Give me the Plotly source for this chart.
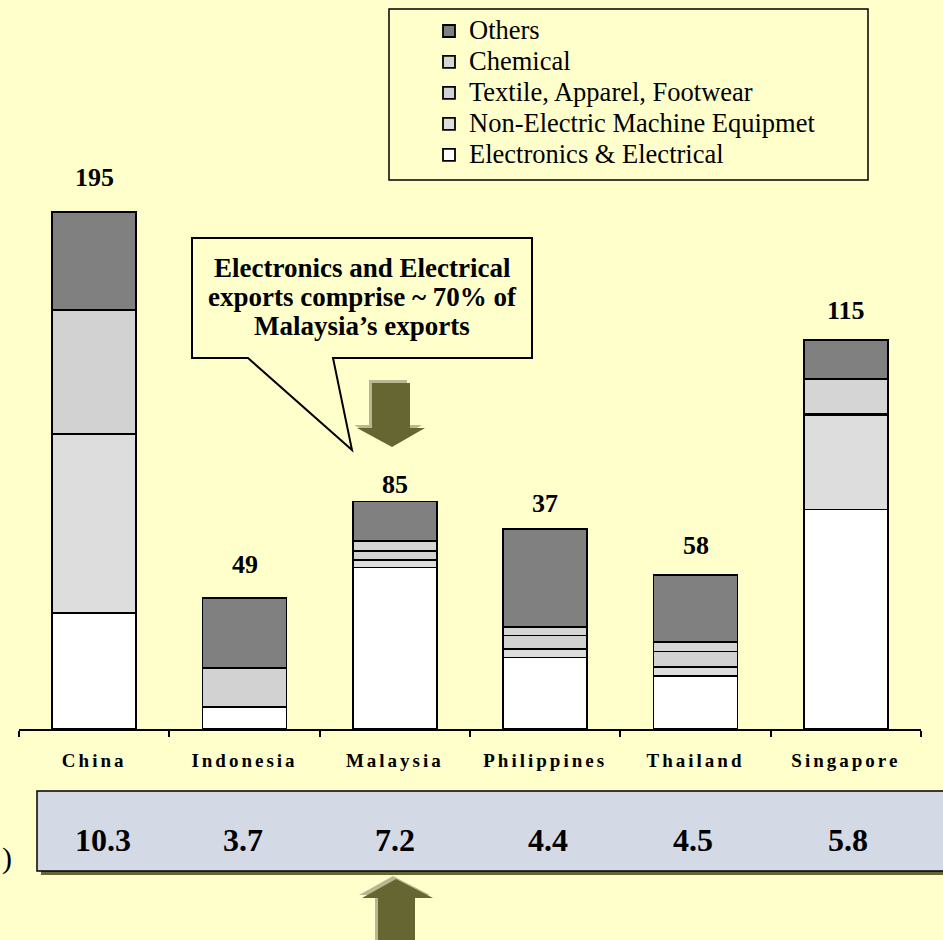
import plotly.graph_objects as go

# ---------------- data (US$ bn) ----------------
countries = ["China", "Indonesia", "Malaysia", "Philippines", "Thailand", "Singapore"]
total_labels = ["195", "49", "85", "37", "58", "115"]
electronics = [43.7, 8.3, 60.8, 26.9, 20.1, 82.7]
non_electric = [67.4, 0.0, 3.0, 3.2, 3.2, 35.5]
textile = [46.7, 14.7, 3.2, 5.1, 5.9, 0.6]
chemical = [0.0, 0.0, 3.8, 3.2, 3.7, 12.9]
others = [36.9, 26.4, 14.9, 36.9, 25.0, 14.8]
table_values = ["10.3", "3.7", "7.2", "4.4", "4.5", "5.8"]

series_names = ["Electronics & Electrical", "Non-Electric Machine Equipmet",
                "Textile, Apparel, Footwear", "Chemical", "Others"]
series_values = [electronics, non_electric, textile, chemical, others]

# ---------------- styling / layout ----------------
W, H = 943, 940
ML, MR, MT, MB = 19, 22, 0, 211
PW, PH = W - ML - MR, H - MT - MB
PX_PER_UNIT = 2.655
BG = "#FFFFCC"
OLIVE = "#666633"
SERIF = "Liberation Serif"
colors = ["#FFFFFF", "#DDDDDD", "#D2D2D2", "#D5D5D5", "#808080"]
label_gap_px = [34.5, 33, 16.7, 25.3, 29.7, 30]   # label centre above bar top
table_x_px = [103, 243, 395, 548, 693, 848]


def px2x(px):
    return (px - ML) / PW


def py2y(py):
    return (MT + PH - py) / PH


def path(points):
    pts = [f"{px2x(x):.5f},{py2y(y):.5f}" for x, y in points]
    return "M" + " L".join(pts) + " Z"


fig = go.Figure()
for name, vals, col in zip(series_names, series_values, colors):
    fig.add_trace(go.Bar(
        x=countries, y=vals,
        name=f'<span style="font-family:Liberation Serif;font-size:26.5px">{name}</span>',
        marker=dict(color=col, line=dict(color="black", width=1.8)),
        hoverinfo="skip",
    ))

totals = [sum(v) for v in zip(*series_values)]
annotations = []
for c, t, lab, g in zip(countries, totals, total_labels, label_gap_px):
    annotations.append(dict(
        x=c, y=t, xref="x", yref="y", yshift=g, text=lab, showarrow=False,
        font=dict(family=SERIF, size=26, color="black", weight="bold"),
        xanchor="center", yanchor="middle"))

# callout text
for txt, yy in zip(["Electronics and Electrical", "exports comprise ~ 70% of",
                    "Malaysia\u2019s exports"], [268, 297, 326]):
    annotations.append(dict(
        x=px2x(362), y=py2y(yy), xref="paper", yref="paper", text=txt,
        showarrow=False, font=dict(family=SERIF, size=27, color="black", weight="bold"),
        xanchor="center", yanchor="middle"))

# table values
for v, xx in zip(table_values, table_x_px):
    annotations.append(dict(
        x=px2x(xx), y=py2y(840), xref="paper", yref="paper", text=v,
        showarrow=False, font=dict(family=SERIF, size=32, color="black", weight="bold"),
        xanchor="center", yanchor="middle"))

annotations.append(dict(
    x=px2x(0), y=py2y(858), xref="paper", yref="paper", text=")",
    showarrow=False, font=dict(family=SERIF, size=30, color="black"),
    xanchor="left", yanchor="middle"))

shapes = []
# legend frame
shapes.append(dict(type="rect", xref="paper", yref="paper",
                   x0=px2x(389), x1=px2x(868), y0=py2y(9), y1=py2y(180),
                   line=dict(color="black", width=1.5), fillcolor=BG, layer="below"))
# callout bubble
shapes.append(dict(type="path", xref="paper", yref="paper",
                   path=path([(192, 238), (532, 238), (532, 358), (333, 358),
                              (352, 450), (248, 358), (192, 358)]),
                   line=dict(color="black", width=2), fillcolor=BG))
# table box with shadow
shapes.append(dict(type="rect", xref="paper", yref="paper",
                   x0=px2x(41), x1=px2x(965), y0=py2y(795), y1=py2y(875),
                   line=dict(width=0), fillcolor=OLIVE))
shapes.append(dict(type="rect", xref="paper", yref="paper",
                   x0=px2x(37), x1=px2x(960), y0=py2y(791), y1=py2y(871),
                   line=dict(color="black", width=1.5), fillcolor="#D4D9E6"))

down_arrow = [(372, 383), (410, 383), (410, 428), (425, 428), (392, 447), (357, 428), (372, 428)]
up_arrow = [(378, 950), (378, 898), (362, 898), (396, 879), (433, 898), (415, 898), (415, 950)]
for arrow in (down_arrow, up_arrow):
    shapes.append(dict(type="path", xref="paper", yref="paper",
                       path=path([(x - 3, y - 3) for x, y in arrow]),
                       line=dict(width=0), fillcolor="#B8B890"))
    shapes.append(dict(type="path", xref="paper", yref="paper",
                       path=path(arrow), line=dict(width=0), fillcolor=OLIVE))

ticktext = [f'<span style="letter-spacing:3px">{c}</span>' for c in countries]

fig.update_layout(
    width=W, height=H, autosize=False,
    margin=dict(l=ML, r=MR, t=MT, b=MB, pad=0),
    paper_bgcolor=BG, plot_bgcolor=BG,
    barmode="stack", bargap=0.44,
    showlegend=True,
    legend=dict(x=px2x(429), y=py2y(10.5), xanchor="left", yanchor="top",
                bgcolor="rgba(0,0,0,0)", borderwidth=0, traceorder="reversed",
                font=dict(family=SERIF, size=21.5, color="black"),
                itemclick=False, itemdoubleclick=False),
    xaxis=dict(type="category", categoryorder="array", categoryarray=countries,
               range=[-0.5, 5.5], showline=True, linecolor="black", linewidth=1.5,
               ticks="outside", tickson="boundaries", ticklen=6, tickwidth=1.5,
               tickcolor="black", tickvals=countries, ticktext=ticktext,
               tickfont=dict(family=SERIF, size=19, color="black", weight="bold"),
               ticklabelstandoff=13, showgrid=False, zeroline=False, fixedrange=True),
    yaxis=dict(visible=False, range=[0, PH / PX_PER_UNIT], fixedrange=True),
    annotations=annotations,
    shapes=shapes,
)

fig.write_html("out.html")
